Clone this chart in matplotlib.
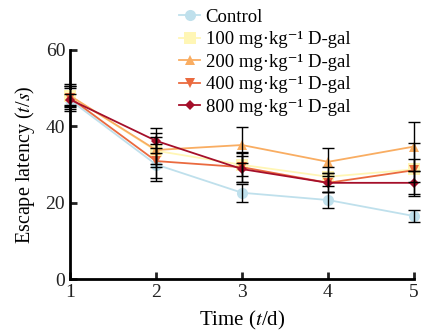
import matplotlib
matplotlib.use("Agg")
import matplotlib.pyplot as plt

plt.rcParams['font.family'] = ['Liberation Serif', 'DejaVu Serif']
plt.rcParams['mathtext.fontset'] = 'stix'

days = [1, 2, 3, 4, 5]
labels = ["Control",
          "100 mg·kg⁻¹ D-gal",
          "200 mg·kg⁻¹ D-gal",
          "400 mg·kg⁻¹ D-gal",
          "800 mg·kg⁻¹ D-gal"]
control = [46.9, 30.0, 22.6, 20.7, 16.5]
control_err = [1.5, 4.3, 2.3, 2.0, 1.5]
d100 = [48.0, 33.6, 29.9, 26.8, 28.7]
d100_err = [2.5, 3.5, 3.0, 2.5, 7.0]
d200 = [48.0, 33.8, 35.1, 30.7, 34.7]
d200_err = [3.0, 4.5, 4.8, 3.7, 6.3]
d400 = [47.5, 30.9, 29.3, 25.2, 28.5]
d400_err = [3.0, 4.5, 4.0, 2.5, 3.0]
d800 = [47.0, 36.2, 28.8, 25.2, 25.2]
d800_err = [3.0, 3.3, 3.5, 2.5, 3.0]

series = [control, d100, d200, d400, d800]
errs = [control_err, d100_err, d200_err, d400_err, d800_err]
colors = ["#bfe0ec", "#fff6b5", "#f9ad62", "#ea6a3f", "#a50f2a"]
markers = ["o", "s", "^", "v", "D"]
msizes = [8, 8, 7, 7, 5]

fig = plt.figure(figsize=(4.22, 3.33), dpi=100)
ax = fig.add_axes([0.166, 0.162, 0.815, 0.688])

handles = []
for vals, err, c, m, ms, lab in zip(series, errs, colors, markers, msizes, labels):
    ln, = ax.plot(days, vals, color=c, marker=m, markersize=ms,
                  markeredgewidth=0, lw=1.3, label=lab, zorder=3, clip_on=False)
    handles.append(ln)
    cont = ax.errorbar(days, vals, yerr=err, fmt='none', ecolor='black',
                       elinewidth=1.0, capsize=4, capthick=1.0, zorder=4)
    for a in cont.lines[1]:
        a.set_clip_on(False)
    for a in cont.lines[2]:
        a.set_clip_on(False)

ax.set_xlim(1, 5)
ax.set_ylim(0, 60)
ax.set_xticks(days)
ax.set_yticks([0, 20, 40, 60])
ax.spines['top'].set_visible(False)
ax.spines['right'].set_visible(False)
for s in ['left', 'bottom']:
    ax.spines[s].set_linewidth(2.0)
ax.tick_params(direction='in', width=2.0, length=5, labelsize=14, colors='#222222')
ax.set_xlabel("Time ($t$/d)", fontsize=15, labelpad=6)
ax.set_ylabel("Escape latency ($t$/$s$)", fontsize=14.5, labelpad=6)

leg = fig.legend(handles, labels, loc='upper left', bbox_to_anchor=(0.385, 1.025),
                 frameon=False, fontsize=13.5, handlelength=1.1, handletextpad=0.3,
                 labelspacing=0.29)

fig.savefig("out.png", dpi=100)
